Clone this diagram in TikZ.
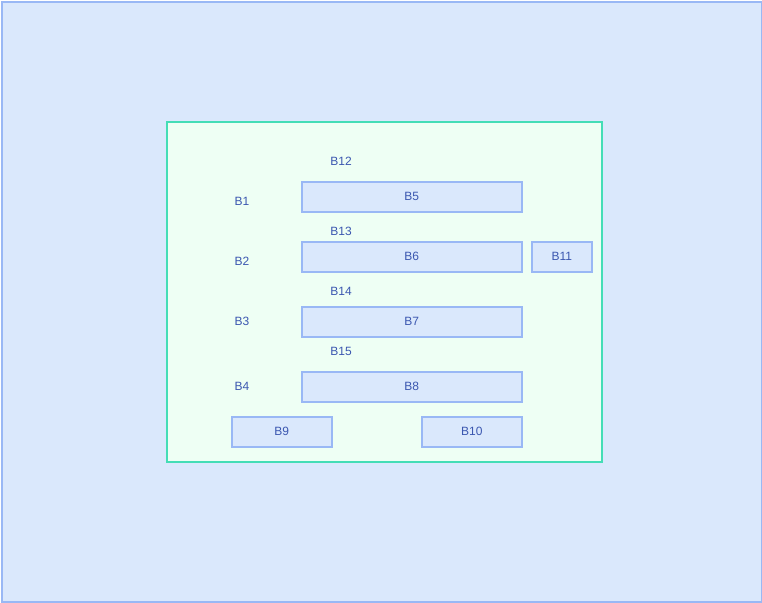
\documentclass[tikz,border=0pt]{standalone}
\usepackage{fontspec}
\setmainfont{Liberation Sans}
\definecolor{bgfill}{HTML}{DAE8FC}
\definecolor{bgline}{HTML}{99B8F5}
\definecolor{infill}{HTML}{EEFFF4}
\definecolor{inline}{HTML}{44DDB6}
\definecolor{txt}{HTML}{3B57B0}
\begin{document}
\begin{tikzpicture}[x=1pt,y=-1pt,
  every node/.style={font=\fontsize{12}{14}\selectfont, text=txt},
  blk/.style={draw=bgline, fill=bgfill, line width=1.6pt, inner sep=0pt, anchor=north west},
  lbl/.style={inner sep=0pt}]
\useasboundingbox (0,0) rectangle (762,602);
\node[draw=bgline, fill=bgfill, line width=1.6pt, minimum width=760pt, minimum height=600pt, anchor=north west, inner sep=0pt] (outer) at (1,1) {};
\node[draw=inline, fill=infill, line width=1.6pt, minimum width=435pt, minimum height=340pt, anchor=north west, inner sep=0pt] (inner) at (166,121) {};
\node[blk, minimum width=220pt, minimum height=30pt] (b5) at (301,181) {};
\node at (b5.center) {B5};
\node[blk, minimum width=220pt, minimum height=30pt] (b6) at (301,241) {};
\node at (b6.center) {B6};
\node[blk, minimum width=60pt, minimum height=30pt] (b11) at (531,241) {};
\node at (b11.center) {B11};
\node[blk, minimum width=220pt, minimum height=30pt] (b7) at (301,306) {};
\node at (b7.center) {B7};
\node[blk, minimum width=220pt, minimum height=30pt] (b8) at (301,371) {};
\node at (b8.center) {B8};
\node[blk, minimum width=100pt, minimum height=30pt] (b9) at (231,416) {};
\node at (b9.center) {B9};
\node[blk, minimum width=100pt, minimum height=30pt] (b10) at (421,416) {};
\node at (b10.center) {B10};
\node[lbl] (b12) at (341,161) {B12};
\node[lbl] (b13) at (341,231) {B13};
\node[lbl] (b14) at (341,291) {B14};
\node[lbl] (b15) at (341,351) {B15};
\node[lbl] (b1) at (242,201) {B1};
\node[lbl] (b2) at (242,261) {B2};
\node[lbl] (b3) at (242,321) {B3};
\node[lbl] (b4) at (242,386) {B4};
\end{tikzpicture}
\end{document}
